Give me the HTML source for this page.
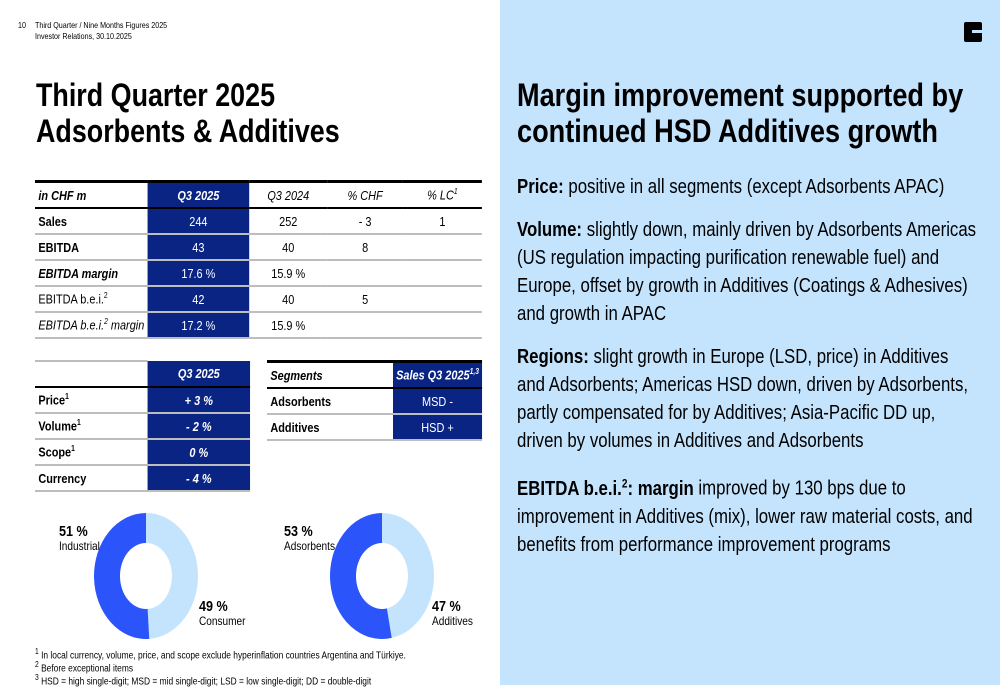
<!DOCTYPE html>
<html><head><meta charset="utf-8">
<style>
body{margin:0;width:1000px;height:685px;position:relative;overflow:hidden;background:#fff;font-family:"Liberation Sans",sans-serif;color:#000}
.a{position:absolute}
.n{transform:scaleX(.84);transform-origin:0 0;white-space:nowrap}
.right{left:500px;top:0;width:500px;height:685px;background:#c4e4fd}
h1{margin:0;font-size:32px;line-height:36px;font-weight:bold}
table{border-collapse:collapse;font-size:13px;position:absolute;transform:scaleX(.84);transform-origin:0 0;white-space:nowrap}
td{padding:0 0 0 4px;border-bottom:2px solid #bdbdbd;height:24px}
.q{background:#0a2484;color:#fff;text-align:center;padding:0}
.c{text-align:center;padding:0}
.b{font-weight:bold}.i{font-style:italic}
.top td{border-top:3px solid #000}
sup{font-size:8px}
p{margin:0;position:absolute;left:517px;width:552px;font-size:20px;line-height:28px;transform:scaleX(.84);transform-origin:0 0}
.fn{font-size:10px;left:35px;position:absolute}
.lb{position:absolute;font-size:12px;line-height:14px}
.lb b{font-size:15px}
</style></head><body>
<div class="a n" style="left:18px;top:20px;font-size:8.5px">10</div>
<div class="a n" style="left:35px;top:20px;font-size:8.5px;line-height:11px">Third Quarter / Nine Months Figures 2025<br>Investor Relations, 30.10.2025</div>
<h1 class="a n" style="left:36px;top:77px">Third Quarter 2025<br>Adsorbents &amp; Additives</h1>

<table style="left:35px;top:180px;width:532px">
<tr class="top"><td class="b i" style="width:130px;border-bottom-color:#000">in CHF m</td><td class="q b i" style="width:121px;border-bottom-color:#000">Q3 2025</td><td class="c i" style="width:93px;border-bottom-color:#000">Q3 2024</td><td class="c i" style="width:90px;border-bottom-color:#000">% CHF</td><td class="c i" style="border-bottom-color:#000">% LC<sup>1</sup></td></tr>
<tr><td class="b">Sales</td><td class="q">244</td><td class="c">252</td><td class="c">- 3</td><td class="c">1</td></tr>
<tr><td class="b">EBITDA</td><td class="q">43</td><td class="c">40</td><td class="c">8</td><td></td></tr>
<tr><td class="b i">EBITDA margin</td><td class="q">17.6 %</td><td class="c">15.9 %</td><td></td><td></td></tr>
<tr><td>EBITDA b.e.i.<sup>2</sup></td><td class="q">42</td><td class="c">40</td><td class="c">5</td><td></td></tr>
<tr><td class="i">EBITDA b.e.i.<sup>2</sup> margin</td><td class="q">17.2 %</td><td class="c">15.9 %</td><td></td><td></td></tr>
</table>

<table style="left:35px;top:360px;width:256px">
<tr><td style="width:130px;border-top:2px solid #bdbdbd;border-bottom-color:#000">&nbsp;</td><td class="q b i" style="border-bottom-color:#000">Q3 2025</td></tr>
<tr><td class="b">Price<sup>1</sup></td><td class="q b i">+ 3 %</td></tr>
<tr><td class="b">Volume<sup>1</sup></td><td class="q b i">- 2 %</td></tr>
<tr><td class="b">Scope<sup>1</sup></td><td class="q b i">0 %</td></tr>
<tr><td class="b">Currency</td><td class="q b i">- 4 %</td></tr>
</table>

<table style="left:267px;top:360px;width:256px">
<tr class="top"><td class="b i" style="width:146px;border-bottom-color:#000;height:20px">Segments</td><td class="q b i" style="border-bottom-color:#000">Sales Q3 2025<sup>1,3</sup></td></tr>
<tr><td class="b" style="height:23px">Adsorbents</td><td class="q">MSD -</td></tr>
<tr><td class="b" style="height:23px">Additives</td><td class="q">HSD +</td></tr>
</table>

<svg class="a" style="left:0;top:500px" width="500" height="145" id="donuts"></svg>
<div class="lb n" style="left:59px;top:525px"><b>51 %</b><br>Industrial</div>
<div class="lb n" style="left:199px;top:600px"><b>49 %</b><br>Consumer</div>
<div class="lb n" style="left:284px;top:525px"><b>53 %</b><br>Adsorbents</div>
<div class="lb n" style="left:432px;top:600px"><b>47 %</b><br>Additives</div>

<div class="fn n" style="top:647px"><sup>1</sup> In local currency, volume, price, and scope exclude hyperinflation countries Argentina and Türkiye.</div>
<div class="fn n" style="top:660px"><sup>2</sup> Before exceptional items</div>
<div class="fn n" style="top:673px"><sup>3</sup> HSD = high single-digit; MSD = mid single-digit; LSD = low single-digit; DD = double-digit</div>

<div class="a right"></div>
<div class="a" style="left:964px;top:22px;width:18px;height:20px;background:#000;border-radius:2px"><div style="position:absolute;left:8px;top:8px;width:10px;height:3px;background:#c4e4fd"></div></div>
<h1 class="a n" style="left:517px;top:77px;font-size:32.3px">Margin improvement supported by<br>continued HSD Additives growth</h1>
<p style="top:173px"><b>Price:</b> positive in all segments (except Adsorbents APAC)</p>
<p style="top:216px"><b>Volume:</b> slightly down, mainly driven by Adsorbents Americas (US regulation impacting purification renewable fuel) and Europe, offset by growth in Additives (Coatings &amp; Adhesives) and growth in APAC</p>
<p style="top:343px"><b>Regions:</b> slight growth in Europe (LSD, price) in Additives and Adsorbents; Americas HSD down, driven by Adsorbents, partly compensated for by Additives; Asia-Pacific DD up, driven by volumes in Additives and Adsorbents</p>
<p style="top:469px"><b>EBITDA b.e.i.<sup style="font-size:12px">2</sup>: margin</b> improved by 130 bps due to improvement in Additives (mix), lower raw material costs, and benefits from performance improvement programs</p>

<script>
const donutNames = ['end-markets','segments'];
const donutCategories = [['Consumer','Industrial'],['Additives','Adsorbents']];
const donutValues = [[49,51],[47,53]];
const colors = ['#c4e4fd','#2b55fb'];
const centers = [146,382];
const svg = document.getElementById('donuts');
const NS='http://www.w3.org/2000/svg';
const rx=52, ry=63, irx=26, iry=33, cy=76;
function pt(cx,a,sx,sy){return [cx+sx*Math.sin(a), cy-sy*Math.cos(a)];}
donutValues.forEach((vals,d)=>{
  const total=vals.reduce((s,v)=>s+v,0);
  let a0=0;const cx=centers[d];
  vals.forEach((v,k)=>{
    const a1=a0+v/total*2*Math.PI;
    const p0=pt(cx,a0,rx,ry),p1=pt(cx,a1,rx,ry),q1=pt(cx,a1,irx,iry),q0=pt(cx,a0,irx,iry);
    const lg=(a1-a0)>Math.PI?1:0;
    const path=document.createElementNS(NS,'path');
    path.setAttribute('d',`M${p0} A${rx},${ry} 0 ${lg} 1 ${p1} L${q1} A${irx},${iry} 0 ${lg} 0 ${q0}Z`);
    path.setAttribute('fill',colors[k]);
    
    
    svg.appendChild(path);
    a0=a1;
  });
});
</script>
</body></html>
